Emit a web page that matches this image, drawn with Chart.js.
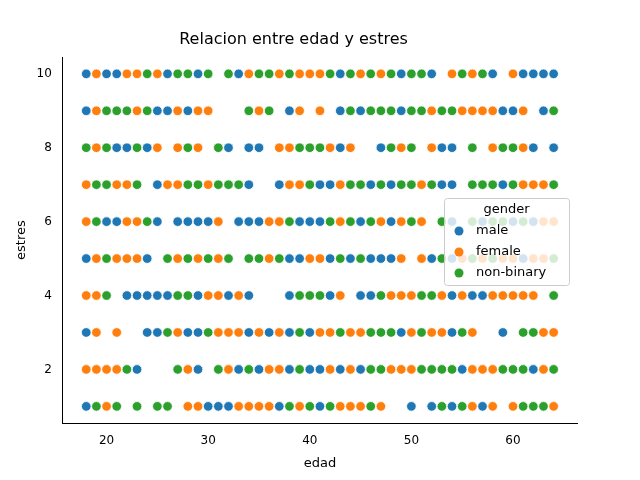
<!DOCTYPE html>
<html>
<head>
<meta charset="utf-8">
<script src="https://cdn.jsdelivr.net/npm/chart.js@4/dist/chart.umd.min.js"></script>
<style>
  body { margin: 0; background: #fff; }
</style>
</head>
<body>
<canvas id="chartEstres" width="640" height="480"></canvas>
<script>
// edades por nivel de estres (1..10), una lista por genero
const maleAges = {
    10: [18,20,21,26,29,33,43,49,52,58,61,62,63,64],
    9: [18,25,26,28,38,43,45,49,59,60,63],
    8: [21,22,24,32,34,35,43,47,53,54,62,64],
    7: [25,34,37,41,42,46,48,53,54,59],
    6: [20,21,25,27,28,29,30,33,34,35,39,40,41,45,48,54,57,60,62],
    5: [18,24,38,39,42,44,46,47,48,52,54,61],
    4: [22,23,24,25,26,29,32,34,38,42,45,46,54,56,57],
    3: [18,24,25,28,29,34,36,38,40,49,54,59],
    2: [23,29,33,35,38,40,41,43,45,55,62],
    1: [18,30,31,32,37,41,50,52,54,57]
};
const femaleAges = {
    10: [19,22,23,25,34,37,39,40,41,45,47,54,56,60],
    9: [19,23,27,29,30,35,39,41,52,55,56,57,58,61],
    8: [19,25,27,29,37,38,42,44,49,52,58,61],
    7: [18,21,22,26,27,30,38,39,43,51,61,62,63],
    6: [18,22,23,31,36,37,43,47,49,51,63,64],
    5: [19,21,22,23,27,29,31,36,40,41,49,51,55,57,59,60,62,63],
    4: [18,19,30,31,33,43,48,49,50,53,55,58,59,60,61,62],
    3: [19,21,27,31,32,33,35,37,41,42,44,45,50,52,53,56,63,64],
    2: [18,19,20,21,28,32,36,37,42,44,48,49,50,56,57,58,63],
    1: [20,28,29,33,34,35,36,39,43,44,45,47,56,58,60,64]
};
const nonBinaryAges = {
    10: [24,27,28,30,32,35,36,38,42,44,46,48,50,51,55,57],
    9: [20,21,22,24,34,36,44,46,47,48,50,51,53,54,64],
    8: [18,20,23,28,31,39,40,41,48,50,56,59,60],
    7: [19,20,23,28,29,31,32,33,40,44,45,47,49,50,52,56,57,58,60,64],
    6: [19,24,38,42,44,46,50,53,56,58,59,61],
    5: [20,26,28,30,32,34,35,37,43,45,53,56,58,64],
    4: [20,27,28,39,40,41,47,51,52,64],
    3: [26,30,39,43,46,47,48,51,55,61,62],
    2: [22,27,31,34,39,46,47,51,52,53,54,59,60,61,64],
    1: [19,21,23,25,26,38,40,42,46,53,55,61,62,63]
};
const genders = ['male', 'female', 'non-binary'];
const colors = ['#1f77b4', '#ff7f0e', '#2ca02c'];

function toPoints(byLevel) {
    let pts = [];
    Object.keys(byLevel).forEach(level => {
        byLevel[level].forEach(age => pts.push({x: age, y: Number(level)}));
    });
    return pts;
}

const legendInside = {
    id: 'legendInside',
    afterDraw(chart) {
        const c = chart.ctx;
        const x = 444, y = 198, w = 125, h = 87;
        c.save();
        c.fillStyle = 'rgba(255,255,255,0.8)';
        c.strokeStyle = '#cccccc';
        c.lineWidth = 1;
        c.beginPath();
        c.roundRect(x + 0.5, y + 0.5, w, h, 3);
        c.fill(); c.stroke();
        c.font = '13px "DejaVu Sans"';
        c.fillStyle = '#000';
        c.textBaseline = 'middle';
        c.textAlign = 'center';
        c.fillText('gender', x + w / 2, y + 12);
        c.textAlign = 'left';
        genders.forEach((g, i) => {
            const yy = y + 33 + i * 21;
            c.beginPath();
            c.arc(x + 15, yy, 4.5, 0, Math.PI * 2);
            c.fillStyle = colors[i];
            c.fill();
            c.fillStyle = '#000';
            c.fillText(g, x + 32, yy);
        });
        c.restore();
    }
};

const ctx = document.getElementById('chartEstres').getContext('2d');
const chart = new Chart(ctx, {
    type: 'scatter',
    data: {
        datasets: genders.map((g, i) => ({
            label: g,
            data: toPoints([maleAges, femaleAges, nonBinaryAges][i]),
            backgroundColor: colors[i],
            borderColor: '#ffffff',
            borderWidth: 0.8,
            pointRadius: 4.8
        }))
    },
    options: {
        responsive: false,
        animation: false,
        devicePixelRatio: 1,
        layout: { padding: { left: 10, right: 63, top: 0, bottom: 5 } },
        plugins: {
            legend: { display: false },
            tooltip: { enabled: false },
            title: {
                display: true,
                text: 'Relacion entre edad y estres',
                color: '#000',
                font: { family: 'DejaVu Sans', size: 16, weight: 'normal' },
                padding: { top: 30, bottom: 8 }
            }
        },
        scales: {
            x: {
                min: 15.7, max: 66.3,
                title: { display: true, text: 'edad', color: '#000', font: { family: 'DejaVu Sans', size: 13 } },
                grid: { display: false },
                border: { color: '#000' },
                ticks: { color: '#000', font: { family: 'DejaVu Sans', size: 12 } },
                afterBuildTicks: axis => { axis.ticks = [20, 30, 40, 50, 60].map(v => ({value: v})); }
            },
            y: {
                min: 0.55, max: 10.45,
                title: { display: true, text: 'estres', color: '#000', font: { family: 'DejaVu Sans', size: 13 } },
                grid: { display: false },
                border: { color: '#000' },
                ticks: { color: '#000', font: { family: 'DejaVu Sans', size: 12 } },
                afterBuildTicks: axis => { axis.ticks = [2, 4, 6, 8, 10].map(v => ({value: v})); }
            }
        }
    },
    plugins: [legendInside]
});
</script>
</body>
</html>
